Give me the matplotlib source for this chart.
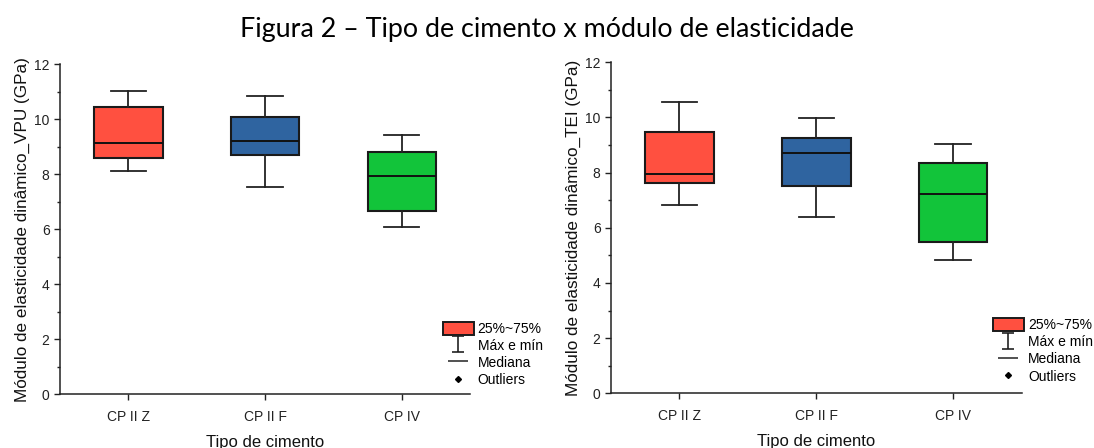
import matplotlib
matplotlib.use("Agg")
import matplotlib.pyplot as plt
from matplotlib.path import Path
from matplotlib.patches import Patch
from matplotlib.lines import Line2D

plt.rcParams['font.family'] = ['Liberation Sans', 'DejaVu Sans']

categories = ["CP II Z", "CP II F", "CP IV"]
colors = ["#FF5040", "#2F64A0", "#12C43A"]

# Left panel: VPU
vpu_min = [8.11, 7.53, 6.09]
vpu_q1 = [8.60, 8.68, 6.67]
vpu_med = [9.12, 9.20, 7.94]
vpu_q3 = [10.42, 10.06, 8.79]
vpu_max = [11.02, 10.85, 9.42]

# Right panel: TEI
tei_min = [6.82, 6.38, 4.84]
tei_q1 = [7.63, 7.52, 5.48]
tei_med = [7.94, 8.72, 7.22]
tei_q3 = [9.48, 9.26, 8.34]
tei_max = [10.55, 9.98, 9.03]

ylabels = ["Módulo de elasticidade dinâmico_VPU (GPa)",
           "Módulo de elasticidade dinâmico_TEI (GPa)"]
xlabel = "Tipo de cimento"
title = "Figura 2 – Tipo de cimento x módulo de elasticidade"
legend_labels = ["25%~75%", "Máx e mín", "Mediana", "Outliers"]

fig = plt.figure(figsize=(10.94, 4.48), dpi=100)
fig.text(0.5, 1 - 30 / 448, title, ha='center', va='center',
         fontsize=19.4, family=['Lato', 'DejaVu Sans'])

ax_rects = [[60 / 1094, 1 - 394.3 / 448, 410 / 1094, 330.3 / 448],
            [611 / 1094, 1 - 393.3 / 448, 410.7 / 1094, 331 / 448]]
leg_anchor = [(0.933, 0.22), (0.930, 0.2275)]

# I-shaped marker for whisker legend
ipath = Path([(-0.39, -0.5), (0.39, -0.5), (0, -0.5), (0, 0.5), (-0.39, 0.5), (0.39, 0.5)],
             [Path.MOVETO, Path.LINETO, Path.MOVETO, Path.LINETO, Path.MOVETO, Path.LINETO])

datasets = [(vpu_min, vpu_q1, vpu_med, vpu_q3, vpu_max),
            (tei_min, tei_q1, tei_med, tei_q3, tei_max)]

for i, (mn, q1, md, q3, mx) in enumerate(datasets):
    ax = fig.add_axes(ax_rects[i])
    stats = []
    for j in range(len(categories)):
        stats.append(dict(med=md[j], q1=q1[j], q3=q3[j], whislo=mn[j], whishi=mx[j],
                          fliers=[], label=categories[j]))
    bp = ax.bxp(stats, positions=[1, 2, 3], widths=0.5, patch_artist=True,
                showfliers=False, capwidths=0.26,
                boxprops=dict(edgecolor='#1a1a1a', linewidth=1.5),
                medianprops=dict(color='#111111', linewidth=1.4),
                whiskerprops=dict(color='#222222', linewidth=1.3),
                capprops=dict(color='#222222', linewidth=1.3))
    for patch, c in zip(bp['boxes'], colors):
        patch.set_facecolor(c)
    ax.set_xlim(0.5, 3.5)
    ax.set_ylim(0, 12)
    ax.set_yticks(range(0, 13, 2))
    ax.set_yticks(range(1, 12, 2), minor=True)
    ax.set_xticks([1, 2, 3])
    ax.set_xticklabels(categories)
    for s in ['top', 'right']:
        ax.spines[s].set_visible(False)
    for s in ['left', 'bottom']:
        ax.spines[s].set_linewidth(1.1)
        ax.spines[s].set_color('#222222')
    ax.tick_params(axis='y', which='major', length=4.5, width=1, pad=3, labelsize=10, colors='#222222')
    ax.tick_params(axis='y', which='minor', length=2.5, width=1, colors='#222222')
    ax.tick_params(axis='x', which='major', length=4, width=1, pad=7, labelsize=10, colors='#222222')
    ax.set_ylabel(ylabels[i], fontsize=12.3, color='#111111')
    ax.yaxis.set_label_coords(-0.073, 0.5)
    ax.set_xlabel(xlabel, fontsize=12, labelpad=8, color='#111111')

    handles = [
        Patch(facecolor=colors[0], edgecolor='#1a1a1a', linewidth=1.4),
        Line2D([], [], linestyle='none', marker=ipath, markersize=11,
               markeredgecolor='#222222', markeredgewidth=1.2, markerfacecolor='none'),
        Line2D([], [], linestyle='none', marker='_', markersize=13.7,
               markeredgecolor='#222222', markeredgewidth=1.1),
        Line2D([], [], linestyle='none', marker='D', markersize=3,
               markeredgecolor='black', markerfacecolor='black'),
    ]
    ax.legend(handles, legend_labels, loc='upper left', bbox_to_anchor=leg_anchor[i],
              frameon=False, fontsize=10, handlelength=2.23, handleheight=1.08,
              handletextpad=0.3, labelspacing=0.2, borderpad=0, borderaxespad=0)

fig.savefig("out.png", dpi=100)
